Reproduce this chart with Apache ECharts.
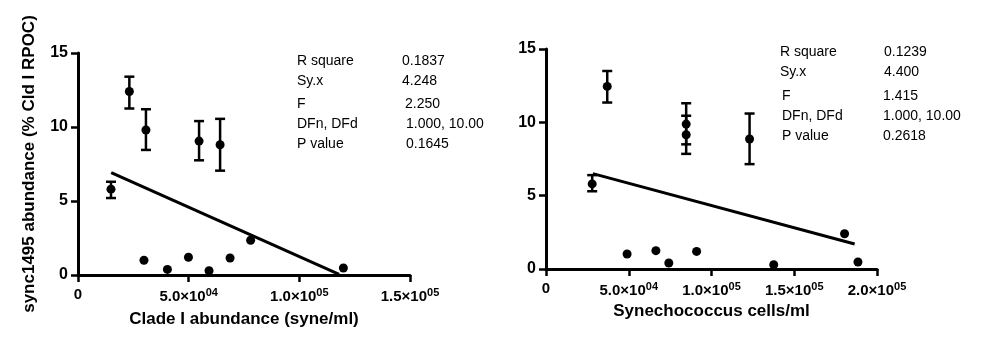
<!DOCTYPE html>
<html>
<head>
<meta charset="utf-8">
<script src="https://cdn.jsdelivr.net/npm/echarts@6/dist/echarts.min.js"></script>
<style>
  html, body { margin: 0; padding: 0; background: #fff; }
  #chart { width: 985px; height: 337px; }
</style>
</head>
<body>
<div id="chart"></div>
<script>
// left panel: Clade I abundance vs sync1495 abundance
const leftX = [14900, 23200, 30700, 54700, 64200, 29800, 40400, 49900, 59200, 68700, 78000, 119900];
const leftY = [5.8, 12.4, 9.8, 9.05, 8.8, 1.0, 0.38, 1.2, 0.29, 1.15, 2.35, 0.47];
const leftErrX = [14900, 23200, 30700, 54700, 64200];
const leftLow = [5.2, 11.25, 8.45, 7.75, 7.05];
const leftHigh = [6.3, 13.4, 11.2, 10.4, 10.55];
const leftFitX = [15000, 118000];
const leftFitY = [6.92, 0.05];

// right panel: Synechococcus cells/ml vs sync1495 abundance
const rightX = [27900, 37000, 84700, 84700, 123000, 49000, 66400, 74200, 91000, 137600, 180400, 188500];
const rightY = [5.8, 12.45, 9.88, 9.15, 8.86, 1.02, 1.25, 0.41, 1.2, 0.29, 2.4, 0.48];
const rightErrX = [27900, 37000, 84700, 84700, 123000];
const rightLow = [5.3, 11.35, 8.5, 7.85, 7.15];
const rightHigh = [6.4, 13.5, 11.3, 10.45, 10.6];
const rightFitX = [28300, 186500];
const rightFitY = [6.5, 1.7];

const statLabels = ["R square", "Sy.x", "F", "DFn, DFd", "P value"];
const leftStats = ["0.1837", "4.248", "2.250", "1.000, 10.00", "0.1645"];
const rightStats = ["0.1239", "4.400", "1.415", "1.000, 10.00", "0.2618"];

const FONT = "Liberation Sans, Arial, sans-serif";

const pairs = (xs, ys) => xs.map((x, i) => [x, ys[i]]);
const errData = (xs, lo, hi) => xs.map((x, i) => [x, lo[i], hi[i]]);

function sciLabel(v) {
  if (v === 0) return "0";
  const e = Math.floor(Math.log10(v));
  const m = (v / Math.pow(10, e)).toFixed(1);
  return m + "×10{sup|" + String(e).padStart(2, "0") + "}";
}

function errorBars(params, api) {
  const x = api.value(0);
  const lo = api.coord([x, api.value(1)]);
  const hi = api.coord([x, api.value(2)]);
  const w = 5;
  const st = { stroke: "#000", lineWidth: 2.5 };
  return {
    type: "group",
    children: [
      { type: "line", shape: { x1: lo[0], y1: lo[1], x2: hi[0], y2: hi[1] }, style: st },
      { type: "line", shape: { x1: lo[0] - w, y1: lo[1], x2: lo[0] + w, y2: lo[1] }, style: st },
      { type: "line", shape: { x1: hi[0] - w, y1: hi[1], x2: hi[0] + w, y2: hi[1] }, style: st },
    ],
  };
}

const xAxisBase = {
  type: "value",
  min: 0,
  interval: 50000,
  nameLocation: "middle",
  nameGap: 36,
  nameTextStyle: { fontFamily: FONT, fontSize: 17, fontWeight: "bold", color: "#000" },
  axisLine: { onZero: false, lineStyle: { color: "#000", width: 3 } },
  axisTick: { length: 7, lineStyle: { color: "#000", width: 2.5 } },
  splitLine: { show: false },
  axisLabel: {
    margin: 12,
    color: "#000",
    fontFamily: FONT,
    fontSize: 15,
    fontWeight: "bold",
    formatter: sciLabel,
    rich: {
      sup: { fontFamily: FONT, fontSize: 11, fontWeight: "bold", color: "#000", verticalAlign: "bottom", padding: [0, 0, 8, 0] },
    },
  },
};

const yAxisBase = {
  type: "value",
  min: 0,
  max: 15,
  interval: 5,
  axisLine: { show: true, onZero: false, lineStyle: { color: "#000", width: 3 } },
  axisTick: { show: true, length: 7, lineStyle: { color: "#000", width: 2.5 } },
  splitLine: { show: false },
  axisLabel: { margin: 10, color: "#000", fontFamily: FONT, fontSize: 16, fontWeight: "bold" },
};

function statTexts(labelX, valueX, ys, values, fIndent) {
  const out = [];
  statLabels.forEach((s, i) => {
    out.push({
      type: "text",
      left: labelX + (i >= 2 ? fIndent : 0),
      top: ys[i] - 8,
      style: { text: s, fontFamily: FONT, fontSize: 14, fill: "#000" },
    });
    out.push({
      type: "text",
      left: valueX[i],
      top: ys[i] - 8,
      style: { text: values[i], fontFamily: FONT, fontSize: 14, fill: "#000" },
    });
  });
  return out;
}

const chart = echarts.init(document.getElementById("chart"));

chart.setOption({
  animation: false,
  backgroundColor: "#fff",
  grid: [
    { left: 78, top: 53, width: 332, height: 222 },
    { left: 546, top: 49, width: 331, height: 220 },
  ],
  xAxis: [
    Object.assign({}, xAxisBase, { gridIndex: 0, max: 150000, name: "Clade I abundance (syne/ml)" }),
    Object.assign({}, xAxisBase, { gridIndex: 1, max: 200000, name: "Synechococcus cells/ml", nameGap: 34 }),
  ],
  yAxis: [
    Object.assign({}, yAxisBase, {
      gridIndex: 0,
      name: "sync1495 abundance (% Cld I RPOC)",
      nameLocation: "middle",
      nameGap: 40,
      nameTextStyle: { fontFamily: FONT, fontSize: 17, fontWeight: "bold", color: "#000" },
    }),
    Object.assign({}, yAxisBase, { gridIndex: 1 }),
  ],
  series: [
    {
      type: "line", xAxisIndex: 0, yAxisIndex: 0,
      data: pairs(leftFitX, leftFitY),
      showSymbol: false, lineStyle: { color: "#000", width: 3 }, z: 2,
    },
    {
      type: "custom", xAxisIndex: 0, yAxisIndex: 0,
      data: errData(leftErrX, leftLow, leftHigh),
      encode: { x: 0, y: [1, 2] },
      renderItem: errorBars, z: 3,
    },
    {
      type: "scatter", xAxisIndex: 0, yAxisIndex: 0,
      data: pairs(leftX, leftY),
      symbolSize: 9, itemStyle: { color: "#000", opacity: 1 }, z: 4,
    },
    {
      type: "line", xAxisIndex: 1, yAxisIndex: 1,
      data: pairs(rightFitX, rightFitY),
      showSymbol: false, lineStyle: { color: "#000", width: 3 }, z: 2,
    },
    {
      type: "custom", xAxisIndex: 1, yAxisIndex: 1,
      data: errData(rightErrX, rightLow, rightHigh),
      encode: { x: 0, y: [1, 2] },
      renderItem: errorBars, z: 3,
    },
    {
      type: "scatter", xAxisIndex: 1, yAxisIndex: 1,
      data: pairs(rightX, rightY),
      symbolSize: 9, itemStyle: { color: "#000", opacity: 1 }, z: 4,
    },
  ],
  graphic: [].concat(
    statTexts(297, [402, 402, 405, 406, 406], [62.5, 82.3, 105.3, 125.5, 145], leftStats, 0),
    statTexts(780, [884, 884, 883, 883, 883], [53.5, 73.3, 97.3, 117.3, 137.3], rightStats, 2)
  ),
});
</script>
</body>
</html>
